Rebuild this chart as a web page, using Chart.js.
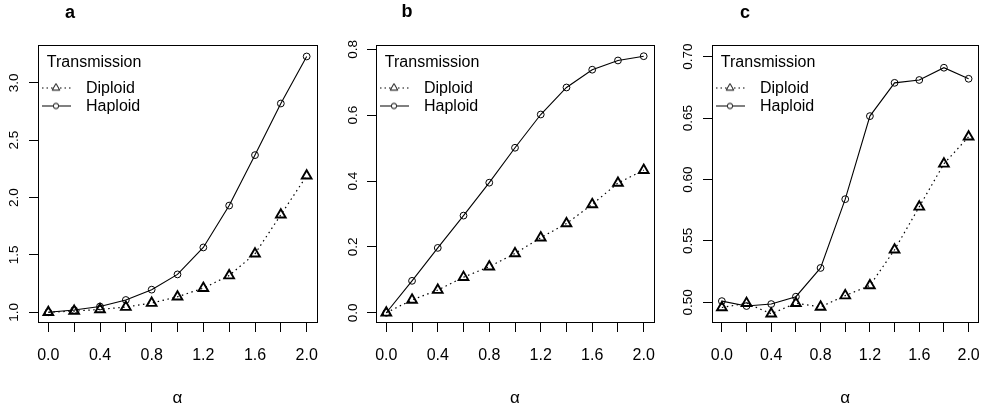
<!DOCTYPE html>
<html><head><meta charset="utf-8">
<script src="https://cdn.jsdelivr.net/npm/chart.js@4.4.1/dist/chart.umd.min.js"></script>
<style>
html,body{margin:0;padding:0;background:#fff;}
#wrap{position:relative;width:994px;height:407px;overflow:hidden;background:#fff;}
#wrap canvas{position:absolute;left:0;top:0;}
.lbl{position:absolute;font:bold 18px "Liberation Sans",Arial,sans-serif;color:#000;transform:translate(-50%,-50%);line-height:1;}
</style></head><body>
<div id="wrap">
<canvas id="ca" width="994" height="407"></canvas>
<canvas id="cb" width="994" height="407"></canvas>
<canvas id="cc" width="994" height="407"></canvas>
<div class="lbl" style="left:70px;top:12px">a</div>
<div class="lbl" style="left:407px;top:11px">b</div>
<div class="lbl" style="left:745px;top:12px">c</div>
</div>
<script>
// ---- data ----
const alpha = [0.0, 0.2, 0.4, 0.6, 0.8, 1.0, 1.2, 1.4, 1.6, 1.8, 2.0];
const xTickLabels = ['0.0', '', '0.4', '', '0.8', '', '1.2', '', '1.6', '', '2.0'];
const seriesNames = ['Diploid', 'Haploid'];
const legendTitle = 'Transmission';
const axisTitle = 'α';

const diploidA = [1.00, 1.01, 1.025, 1.045, 1.08, 1.135, 1.21, 1.32, 1.51, 1.85, 2.19];
const haploidA = [1.00, 1.02, 1.05, 1.107, 1.197, 1.33, 1.565, 1.93, 2.37, 2.82, 3.23];
const yTicksA = [1.0, 1.5, 2.0, 2.5, 3.0];

const diploidB = [0.0, 0.039, 0.069, 0.108, 0.140, 0.180, 0.228, 0.271, 0.329, 0.394, 0.433];
const haploidB = [0.0, 0.097, 0.197, 0.295, 0.395, 0.501, 0.602, 0.684, 0.738, 0.766, 0.779];
const yTicksB = [0.0, 0.2, 0.4, 0.6, 0.8];

const diploidC = [0.4958, 0.4993, 0.4907, 0.4993, 0.4963, 0.5055, 0.5137, 0.5428, 0.5778, 0.6128, 0.6348];
const haploidC = [0.501, 0.497, 0.4986, 0.5046, 0.528, 0.584, 0.6516, 0.6787, 0.681, 0.691, 0.682];
const yTicksC = [0.50, 0.55, 0.60, 0.65, 0.70];

// ---- helpers ----
const FONT = '"Liberation Sans", Arial, Helvetica, sans-serif';
Chart.defaults.font.family = FONT;
Chart.defaults.color = '#000';

function legendImg(dashed, marker) {
  const c = document.createElement('canvas');
  c.width = 38; c.height = 16;
  const g = c.getContext('2d');
  g.strokeStyle = '#000'; g.lineWidth = 1;
  const ly = 7.5;
  g.setLineDash(dashed ? [1.5, 3] : []);
  g.beginPath(); g.moveTo(2, ly); g.lineTo(31, ly); g.stroke();
  g.setLineDash([]);
  g.fillStyle = '#fff';
  g.beginPath();
  if (marker === 'triangle') {
    const r = 4.4, cx = 16, cy = ly;
    g.moveTo(cx, cy - r);
    g.lineTo(cx + r * 0.866, cy + r * 0.5);
    g.lineTo(cx - r * 0.866, cy + r * 0.5);
    g.closePath();
  } else {
    g.arc(16, ly, 2.7, 0, Math.PI * 2);
  }
  g.fill(); g.stroke();
  return c;
}

const boxPlugin = {
  id: 'rbox',
  afterLayout(chart) {
    const l = chart.legend, a = chart.chartArea;
    if (l) { l.top = a.top; l.bottom = a.top + l.height; }
  },
  afterDraw(chart) {
    const a = chart.chartArea, ctx = chart.ctx;
    ctx.save();
    ctx.strokeStyle = '#000'; ctx.lineWidth = 1;
    ctx.strokeRect(Math.round(a.left) + 0.5, Math.round(a.top) + 0.5,
                   Math.round(a.right) - Math.round(a.left), Math.round(a.bottom) - Math.round(a.top));
    ctx.restore();
  }
};

function makeChart(id, diploid, haploid, yTicks, yDec, yMin, yMax, area, yLabelPad) {
  const yW = 30;
  const imgs = [legendImg(true, 'triangle'), legendImg(false, 'circle')];
  return new Chart(document.getElementById(id), {
    type: 'line',
    data: {
      datasets: [
        {
          label: seriesNames[0],
          data: alpha.map((x, i) => ({x: x, y: diploid[i]})),
          borderColor: '#000', borderWidth: 1.2, borderDash: [1.5, 3.5],
          pointStyle: 'triangle', pointRadius: 5.6, pointBorderWidth: 1.9,
          pointBorderColor: '#000', pointBackgroundColor: 'rgba(0,0,0,0)',
          tension: 0, fill: false
        },
        {
          label: seriesNames[1],
          data: alpha.map((x, i) => ({x: x, y: haploid[i]})),
          borderColor: '#000', borderWidth: 1.1,
          pointStyle: 'circle', pointRadius: 3.4, pointBorderWidth: 1,
          pointBorderColor: '#000', pointBackgroundColor: 'rgba(0,0,0,0)',
          tension: 0, fill: false
        }
      ]
    },
    options: {
      responsive: false, animation: false, devicePixelRatio: 1, events: [],
      layout: { padding: { left: area.left - yW, right: 994 - area.right, top: area.top, bottom: 0 } },
      scales: {
        x: {
          type: 'linear', min: -0.08, max: 2.08,
          afterBuildTicks: s => { s.ticks = alpha.map(v => ({value: v})); },
          afterFit: s => { s.height = 407 - area.bottom; },
          ticks: { autoSkip: false, maxRotation: 0, minRotation: 0, padding: 14,
                   font: { size: 16 }, color: '#000',
                   callback: (v, i) => xTickLabels[i] },
          grid: { drawOnChartArea: false, drawTicks: true, tickLength: 10, color: '#000', tickWidth: 1 },
          border: { display: true, color: '#000', width: 1 },
          title: { display: true, text: axisTitle, color: '#000', font: { size: 17, family: FONT, lineHeight: 1 },
                   padding: { top: 0, bottom: 0 } }
        },
        y: {
          type: 'linear', min: yMin, max: yMax,
          afterBuildTicks: s => { s.ticks = yTicks.map(v => ({value: v})); },
          afterFit: s => { s.width = yW; },
          ticks: { minRotation: 90, maxRotation: 90, crossAlign: 'center', padding: yLabelPad,
                   font: { size: 13.5 }, color: '#000',
                   callback: v => Number(v).toFixed(yDec) },
          grid: { drawOnChartArea: false, drawTicks: true, tickLength: 9, color: '#000', tickWidth: 1 },
          border: { display: true, color: '#000', width: 1 }
        }
      },
      plugins: {
        title: { display: false },
        tooltip: { enabled: false },
        legend: {
          display: true, position: 'chartArea', align: 'start',
          title: { display: true, text: legendTitle, position: 'center', color: '#000',
                   font: { size: 16 }, padding: { top: 9.5, bottom: 4.8 } },
          labels: {
            usePointStyle: true, pointStyleWidth: 38, padding: 2, color: '#000',
            font: { size: 16 },
            generateLabels: chart => chart.data.datasets.map((d, i) => ({
              text: d.label, pointStyle: imgs[i], datasetIndex: i, hidden: false,
              fillStyle: 'transparent', strokeStyle: 'transparent', lineWidth: 0, fontColor: '#000'
            }))
          }
        }
      }
    },
    plugins: [boxPlugin]
  });
}

makeChart('ca', diploidA, haploidA, yTicksA, 1, 0.915, 3.33, {left: 38, right: 317, top: 45, bottom: 322}, 5.6);
makeChart('cb', diploidB, haploidB, yTicksB, 1, -0.028, 0.813, {left: 376, right: 654, top: 45, bottom: 322}, 4.8);
makeChart('cc', diploidC, haploidC, yTicksC, 2, 0.484, 0.7095, {left: 712, right: 991, top: 45, bottom: 322}, 1.6);
</script>
</body></html>
